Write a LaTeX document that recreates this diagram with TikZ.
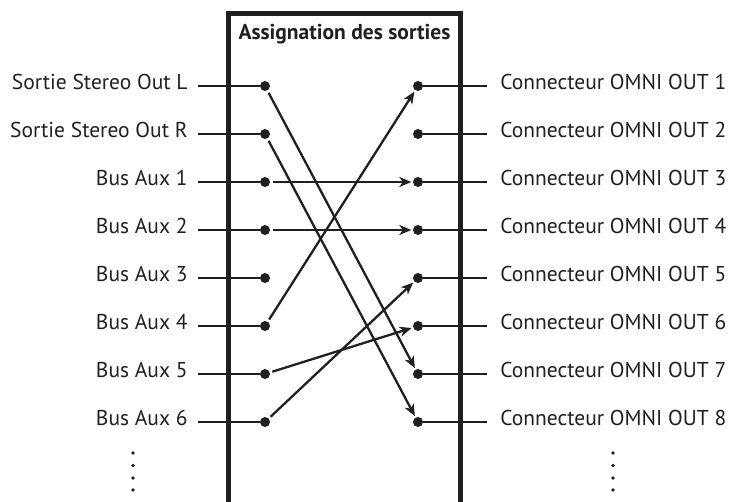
\documentclass[tikz,border=0pt]{standalone}
\usepackage{fontspec}
\setmainfont{PT Sans}
\usetikzlibrary{arrows.meta,positioning}
\definecolor{ink}{HTML}{231F20}

\begin{document}
\begin{tikzpicture}[
  x=1pt, y=-1pt,
  font=\fontsize{21.5}{24}\selectfont, text=ink,
  >={Stealth[length=12pt,width=10pt,inset=3.5pt]},
  wire/.style={line width=2.3pt, draw=ink},
  conn/.style={wire, ->, shorten <=2.5pt, shorten >=1.5pt},
  dot/.style={circle, fill=ink, inner sep=0pt, minimum size=10pt},
  srclbl/.style={anchor=east, inner xsep=10pt, inner ysep=0pt,
    text height=15pt, text depth=8pt},
  dstlbl/.style={anchor=west, inner xsep=13pt, inner ysep=0pt,
    text height=15pt, text depth=8pt},
  frame/.style={draw=ink, line width=5pt, outer sep=0pt, anchor=north,
    minimum width=232pt, minimum height=540pt},
  titlelbl/.style={font=\fontsize{21.5}{24}\selectfont\bfseries, inner sep=0pt},
  moredot/.style={fill=ink}
]
\useasboundingbox (0,0) rectangle (746,501);

% =============================================================
% frame: output assignment
% =============================================================
\node[frame] (assign) at (344.5,13) {};
\node[titlelbl, below=11pt of assign.north] (title) {Assignation des sorties};

% =============================================================
% inputs (left)
% =============================================================
\node[dot] (stL)  at (265,86)  {};
\node[dot] (stR)  at (265,134) {};
\node[dot] (aux1) at (265,182) {};
\node[dot] (aux2) at (265,230) {};
\node[dot] (aux3) at (265,278) {};
\node[dot] (aux4) at (265,326) {};
\node[dot] (aux5) at (265,374) {};
\node[dot] (aux6) at (265,422) {};

\node[srclbl, left=62pt of stL]  (stLtxt)  {Sortie Stereo Out L};
\node[srclbl, left=62pt of stR]  (stRtxt)  {Sortie Stereo Out R};
\node[srclbl, left=62pt of aux1] (aux1txt) {Bus Aux 1};
\node[srclbl, left=62pt of aux2] (aux2txt) {Bus Aux 2};
\node[srclbl, left=62pt of aux3] (aux3txt) {Bus Aux 3};
\node[srclbl, left=62pt of aux4] (aux4txt) {Bus Aux 4};
\node[srclbl, left=62pt of aux5] (aux5txt) {Bus Aux 5};
\node[srclbl, left=62pt of aux6] (aux6txt) {Bus Aux 6};

% =============================================================
% outputs (right)
% =============================================================
\node[dot] (omni1) at (418,86)  {};
\node[dot] (omni2) at (418,134) {};
\node[dot] (omni3) at (418,182) {};
\node[dot] (omni4) at (418,230) {};
\node[dot] (omni5) at (418,278) {};
\node[dot] (omni6) at (418,326) {};
\node[dot] (omni7) at (418,374) {};
\node[dot] (omni8) at (418,422) {};

\node[dstlbl, right=64pt of omni1] (omni1txt) {Connecteur OMNI OUT 1};
\node[dstlbl, right=64pt of omni2] (omni2txt) {Connecteur OMNI OUT 2};
\node[dstlbl, right=64pt of omni3] (omni3txt) {Connecteur OMNI OUT 3};
\node[dstlbl, right=64pt of omni4] (omni4txt) {Connecteur OMNI OUT 4};
\node[dstlbl, right=64pt of omni5] (omni5txt) {Connecteur OMNI OUT 5};
\node[dstlbl, right=64pt of omni6] (omni6txt) {Connecteur OMNI OUT 6};
\node[dstlbl, right=64pt of omni7] (omni7txt) {Connecteur OMNI OUT 7};
\node[dstlbl, right=64pt of omni8] (omni8txt) {Connecteur OMNI OUT 8};

% =============================================================
% wires
% =============================================================
\draw[wire] (stLtxt) -- (stL);
\draw[wire] (stRtxt) -- (stR);
\draw[wire] (aux1txt) -- (aux1);
\draw[wire] (aux2txt) -- (aux2);
\draw[wire] (aux3txt) -- (aux3);
\draw[wire] (aux4txt) -- (aux4);
\draw[wire] (aux5txt) -- (aux5);
\draw[wire] (aux6txt) -- (aux6);

\draw[wire] (omni1) -- (omni1txt);
\draw[wire] (omni2) -- (omni2txt);
\draw[wire] (omni3) -- (omni3txt);
\draw[wire] (omni4) -- (omni4txt);
\draw[wire] (omni5) -- (omni5txt);
\draw[wire] (omni6) -- (omni6txt);
\draw[wire] (omni7) -- (omni7txt);
\draw[wire] (omni8) -- (omni8txt);

% assignments
\draw[conn] (stL)  -- (omni7);
\draw[conn] (stR)  -- (omni8);
\draw[conn] (aux1) -- (omni3);
\draw[conn] (aux2) -- (omni4);
\draw[conn] (aux4) -- (omni1);
\draw[conn] (aux5) -- (omni6);
\draw[conn] (aux6) -- (omni5);

% more channels
\foreach \y in {453,465.5,478,490} {
  \fill[moredot] (133,\y) circle (1.8pt);
  \fill[moredot] (613,\y) circle (1.8pt);
}

\end{tikzpicture}
\end{document}
